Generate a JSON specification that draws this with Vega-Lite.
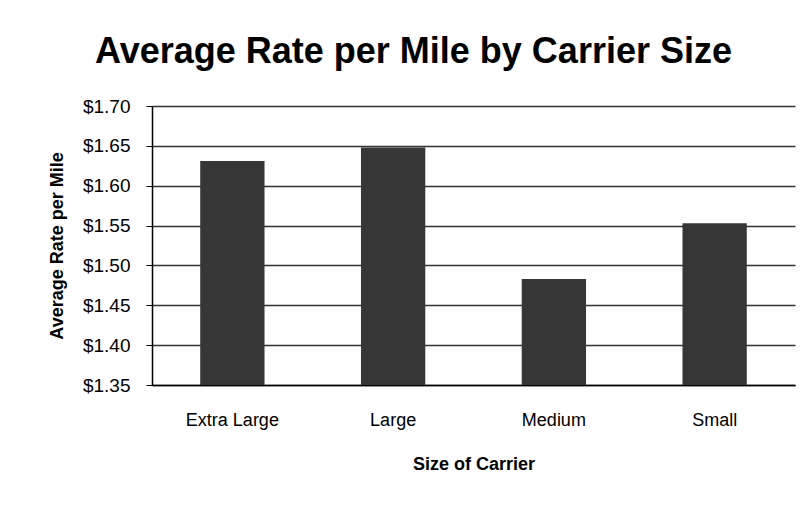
{
  "$schema": "https://vega.github.io/schema/vega-lite/v6.json",
  "autosize": {"type": "none"},
  "padding": {"left": 152, "top": 106, "right": 15, "bottom": 123},
  "width": 643,
  "height": 279,
  "background": "white",
  "title": {
    "text": "Average Rate per Mile by Carrier Size",
    "font": "Liberation Sans",
    "fontSize": 36,
    "fontWeight": "bold",
    "color": "black",
    "anchor": "middle",
    "offset": 26,
    "dx": -60
  },
  "data": {
    "values": [
      {"size": "Extra Large", "rate": 1.631},
      {"size": "Large", "rate": 1.648},
      {"size": "Medium", "rate": 1.483},
      {"size": "Small", "rate": 1.553}
    ]
  },
  "mark": {"type": "bar", "color": "#363636", "clip": true},
  "encoding": {
    "x": {
      "field": "size",
      "type": "nominal",
      "sort": null,
      "title": "Size of Carrier",
      "scale": {"paddingInner": 0.6, "paddingOuter": 0.3},
      "axis": {
        "labelAngle": 0,
        "ticks": false,
        "labelPadding": 26,
        "labelFont": "Liberation Sans",
        "labelFontSize": 18,
        "labelColor": "black",
        "titleFont": "Liberation Sans",
        "titleFontSize": 18,
        "titleFontWeight": "bold",
        "titleColor": "black",
        "titlePadding": 26,
        "domainColor": "black",
        "domainWidth": 1.5
      }
    },
    "y": {
      "field": "rate",
      "type": "quantitative",
      "title": "Average Rate per Mile",
      "scale": {"domain": [1.35, 1.70], "nice": false, "zero": false},
      "axis": {
        "values": [1.35, 1.40, 1.45, 1.50, 1.55, 1.60, 1.65, 1.70],
        "format": "$.2f",
        "tickSize": 6,
        "tickColor": "black",
        "labelPadding": 16,
        "labelFont": "Liberation Sans",
        "labelFontSize": 19,
        "labelColor": "black",
        "titleFont": "Liberation Sans",
        "titleFontSize": 18,
        "titleFontWeight": "bold",
        "titleColor": "black",
        "titlePadding": 16,
        "domainColor": "black",
        "domainWidth": 1.5,
        "grid": true,
        "gridColor": "#333333",
        "gridWidth": 1.5
      }
    }
  },
  "config": {
    "view": {"stroke": null}
  }
}
